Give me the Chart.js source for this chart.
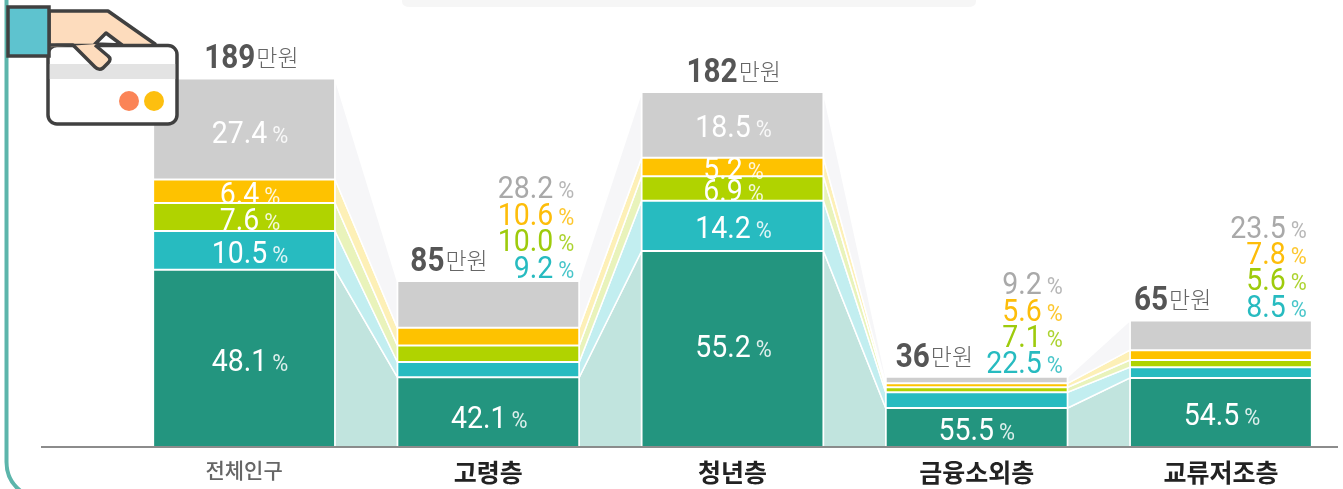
<!DOCTYPE html>
<html lang="ko"><head><meta charset="utf-8">
<script src="https://cdn.jsdelivr.net/npm/chart.js@4"></script>
<style>
html,body{margin:0;padding:0;background:#fff;overflow:hidden}
#wrap{position:relative;width:1343px;height:489px}
canvas{position:absolute;left:0;top:0}
svg{position:absolute;left:0;top:0;pointer-events:none}
</style></head><body>
<div id="wrap"><canvas id="c" width="1343" height="489"></canvas>
<svg width="1343" height="489" viewBox="0 0 1343 489">
  <path d="M6.5 0V462Q6.5 481 22 492" fill="none" stroke="#5cb5ab" stroke-width="4"/>
  <path d="M402 -5H976V1Q976 7 968 7H410Q402 7 402 1Z" fill="#f6f6f6"/>
  <path d="M49 11H108L155 44V46H49Z" fill="#fddcbd" stroke="#404040" stroke-width="3.5" stroke-linejoin="round"/>
  <path d="M95 44L106 33L122 45Z" fill="#fff" stroke="#404040" stroke-width="3.5" stroke-linejoin="round"/>
  <rect x="48" y="45.5" width="129" height="78.5" rx="9" fill="#fff" stroke="#404040" stroke-width="3.5"/>
  <rect x="49.8" y="64" width="125.4" height="15" fill="#e3e3e3"/>
  <path d="M49.8 47.2V44.5H73L95 67Q99 71 103 68L108 63Q112 59 108 56L96 44Z" fill="#fddcbd"/>
  <path d="M49 45H73L95 67Q99 71 103 68L108 63Q112 59 108 56L95 45" fill="none" stroke="#404040" stroke-width="3.5" stroke-linejoin="round"/>
  <circle cx="129" cy="101" r="10" fill="#fb8456"/>
  <circle cx="154" cy="101" r="10" fill="#fdbf0f"/>
  <rect x="8" y="7" width="41" height="49" fill="#5ec3cf" stroke="#404040" stroke-width="3.5"/>
</svg></div>
<script>
const categories = ['전체인구', '고령층', '청년층', '금융소외층', '교류저조층'];
const totals = [189, 85, 182, 36, 65];
const seriesA = [48.1, 42.1, 55.2, 55.5, 54.5];
const seriesB = [10.5, 9.2, 14.2, 22.5, 8.5];
const seriesC = [7.6, 10.0, 6.9, 7.1, 5.6];
const seriesD = [6.4, 10.6, 5.2, 5.6, 7.8];
const seriesE = [27.4, 28.2, 18.5, 9.2, 23.5];
const unit = '만원';

const allSeries = [seriesA, seriesB, seriesC, seriesD, seriesE];
const barColors = ['#23957f', '#27bbc0', '#b0d300', '#fec200', '#cecece'];
const bandColors = ['#c1e4de', '#c2eef0', '#e9f3bb', '#fdf0b7', '#f6f6f8'];
const sideColors = ['#27bbc0', '#9ecb0c', '#fdbd0a', '#a9a9a9'];
const NUM = 'Roboto, "Noto Sans", sans-serif';
const KR = '"Noto Sans CJK KR", sans-serif';
const SX = 0.89;

function pctText(ctx, num, x, yMid, color, align) {
  ctx.save();
  ctx.fillStyle = color;
  ctx.textBaseline = 'alphabetic';
  ctx.textAlign = 'left';
  ctx.font = '400 32px ' + NUM;
  const a = ctx.measureText(num).width * SX;
  ctx.font = '400 23px ' + NUM;
  const b = ctx.measureText('%').width * 0.95;
  const w = a + 5 + b;
  const x0 = align === 'right' ? x - w : x - w / 2;
  const yb = yMid + 11.5;
  ctx.save();
  ctx.translate(x0, yb); ctx.scale(SX, 1);
  ctx.font = '400 32px ' + NUM;
  ctx.fillText(num, 0, 0);
  ctx.restore();
  ctx.translate(x0 + a + 5, yb); ctx.scale(0.95, 1);
  ctx.font = '400 23px ' + NUM;
  ctx.globalAlpha = 0.85;
  ctx.fillText('%', 0, 0);
  ctx.restore();
}

const bandsPlugin = {
  id: 'bands',
  beforeDatasetsDraw(chart) {
    const {ctx} = chart;
    chart.data.datasets.forEach((ds, d) => {
      const els = chart.getDatasetMeta(d).data;
      for (let i = 0; i < els.length - 1; i++) {
        const a = els[i].getProps(['x', 'y', 'base', 'width']);
        const b = els[i + 1].getProps(['x', 'y', 'base', 'width']);
        const ax = a.x + a.width / 2, bx = b.x - b.width / 2;
        ctx.beginPath();
        ctx.moveTo(ax, a.y); ctx.lineTo(bx, b.y);
        ctx.lineTo(bx, b.base); ctx.lineTo(ax, a.base); ctx.closePath();
        ctx.fillStyle = bandColors[d];
        ctx.fill();
        ctx.strokeStyle = '#fff'; ctx.lineWidth = 1.5;
        ctx.stroke();
      }
    });
  }
};

const labelsPlugin = {
  id: 'labels',
  afterDatasetsDraw(chart) {
    const {ctx} = chart;
    const yB = chart.scales.y.getPixelForValue(0);
    ctx.save();
    ctx.strokeStyle = '#666'; ctx.lineWidth = 1.5;
    ctx.beginPath(); ctx.moveTo(41, yB); ctx.lineTo(1338, yB); ctx.stroke();
    ctx.restore();

    const metas = allSeries.map((_, d) => chart.getDatasetMeta(d).data);
    const insideAll = [0, 2];
    const centreShift = [6, 1, 1, 0, 1];
    const totalInset = [51, 13, 45, 10, 4];
    const firstShift = [1, 4, -4, 1, 1];
    categories.forEach((_, i) => {
      const el0 = metas[0][i], top = metas[4][i];
      const left = el0.x - el0.width / 2, right = el0.x + el0.width / 2;
      if (insideAll.includes(i)) {
        allSeries.forEach((s, d) => {
          const e = metas[d][i];
          const dy = d === 0 ? firstShift[i] : (d === 4 && i === 0 ? 3 : 1);
          pctText(ctx, s[i].toFixed(1), e.x + centreShift[i], (e.y + e.base) / 2 + dy, '#fff');
        });
      } else {
        const e = metas[0][i];
        pctText(ctx, seriesA[i].toFixed(1), e.x + centreShift[i], (e.y + e.base) / 2 + firstShift[i], '#fff');
        for (let d = 1; d < 5; d++) {
          pctText(ctx, allSeries[d][i].toFixed(1), right - 5, top.y - 15 - (d - 1) * 26.4, sideColors[d - 1], 'right');
        }
      }
      ctx.save();
      ctx.textBaseline = 'alphabetic'; ctx.textAlign = 'left'; ctx.fillStyle = '#555';
      const t = String(totals[i]);
      ctx.font = '700 33px ' + NUM;
      const tw = ctx.measureText(t).width * 0.9;
      const x0 = left + totalInset[i];
      const base = top.y - 10;
      ctx.save();
      ctx.translate(x0, base); ctx.scale(0.9, 1);
      ctx.fillText(t, 0, 0);
      ctx.restore();
      ctx.font = '300 23px ' + KR;
      ctx.fillStyle = '#666';
      ctx.fillText(unit, x0 + tw + 1, base - 2);
      ctx.restore();
    });
  }
};

new Chart(document.getElementById('c'), {
  type: 'bar',
  data: {
    labels: categories,
    datasets: allSeries.map((s, d) => ({
      label: 'series' + d,
      data: s.map((p, i) => totals[i] * p / 100),
      backgroundColor: barColors[d],
      borderColor: '#fff',
      borderWidth: 1,
      borderSkipped: false,
      barPercentage: 0.745,
      categoryPercentage: 1
    }))
  },
  options: {
    responsive: false,
    animation: false,
    layout: {padding: {left: 122, right: 0, top: 0, bottom: 0}},
    plugins: {legend: {display: false}, tooltip: {enabled: false}},
    scales: {
      x: {
        stacked: true,
        afterFit: s => { s.height = 42; },
        grid: {display: false, drawTicks: false},
        border: {display: false},
        ticks: {
          padding: 10,
          maxRotation: 0,
          color: c => c.index === 0 ? '#666' : '#222',
          font: c => c.index === 0
            ? {family: KR, size: 21, weight: '500'}
            : {family: KR, size: 25, weight: '700'}
        }
      },
      y: {stacked: true, display: false, min: 0, max: 229.23, grid: {display: false}}
    }
  },
  plugins: [bandsPlugin, labelsPlugin]
});
</script></body></html>
